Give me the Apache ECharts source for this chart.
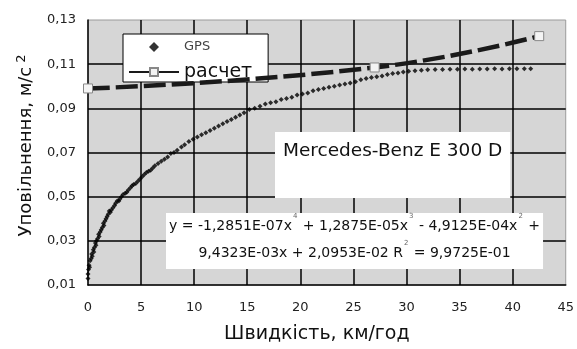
<!DOCTYPE html>
<html>
<head>
<meta charset="utf-8">
<script src="https://cdn.jsdelivr.net/npm/echarts@6/dist/echarts.min.js"></script>
<style>
  html, body { margin: 0; padding: 0; background: #fff; }
  #chart { width: 577px; height: 349px; }
</style>
</head>
<body>
<div id="chart"></div>
<script>
// GPS measurements: speed (km/h) and deceleration (m/s2)
const gpsSpeed = [
  0.0, 0.0, 0.05, 0.1, 0.15, 0.2, 0.3, 0.35, 0.4, 0.5, 0.55, 0.6, 0.7, 0.75, 0.8, 0.9,
  1.0, 1.05, 1.15, 1.25, 1.35, 1.45, 1.5, 1.6, 1.7, 1.8, 1.9, 2.0, 2.1, 2.2, 2.35, 2.5,
  2.6, 2.75, 2.9, 3.0, 3.15, 3.3, 3.5, 3.65, 3.8, 4.0, 4.15, 4.3, 4.5, 4.7, 4.9, 5.1,
  5.3, 5.5, 5.7, 5.9, 6.1, 6.3, 6.6, 6.9, 7.2, 7.5, 7.8, 8.1, 8.4, 8.8, 9.1, 9.5,
  9.9, 10.3, 10.7, 11.1, 11.5, 11.9, 12.3, 12.7, 13.1, 13.5, 13.9, 14.3, 14.7, 15.2, 15.7, 16.2,
  16.7, 17.2, 17.7, 18.2, 18.7, 19.2, 19.7, 20.2, 20.7, 21.2, 21.7, 22.2, 22.7, 23.2, 23.7, 24.2,
  24.7, 25.2, 25.7, 26.2, 26.7, 27.2, 27.7, 28.2, 28.7, 29.2, 29.7, 30.2, 30.8, 31.4, 32.0, 32.7,
  33.4, 34.1, 34.8, 35.5, 36.2, 36.9, 37.6, 38.3, 39.0, 39.7, 40.4, 41.1, 41.7
];
const gpsDecel = [
  0.013, 0.015, 0.017, 0.019, 0.018, 0.021, 0.022, 0.024, 0.023, 0.026, 0.025, 0.027, 0.029, 0.028, 0.030, 0.031,
  0.033, 0.032, 0.034, 0.035, 0.036, 0.038, 0.037, 0.039, 0.040, 0.041, 0.042, 0.0435, 0.043, 0.044, 0.045, 0.046,
  0.047, 0.048, 0.048, 0.049, 0.050, 0.051, 0.0515, 0.052, 0.053, 0.054, 0.055, 0.0555, 0.056, 0.057, 0.058, 0.059,
  0.060, 0.061, 0.0615, 0.062, 0.063, 0.064, 0.065, 0.066, 0.067, 0.068, 0.0695, 0.070, 0.071, 0.0725, 0.0735, 0.075,
  0.076, 0.077, 0.078, 0.079, 0.080, 0.081, 0.082, 0.083, 0.084, 0.085, 0.086, 0.087, 0.088, 0.0895, 0.090, 0.091,
  0.092, 0.0925, 0.093, 0.094, 0.0945, 0.095, 0.096, 0.0965, 0.097, 0.098, 0.0985, 0.099, 0.0995, 0.100, 0.1006, 0.101,
  0.1015, 0.102, 0.103, 0.1035, 0.104, 0.1043, 0.1046, 0.1053, 0.1058, 0.106, 0.1065, 0.1068, 0.107, 0.1073, 0.1075, 0.1076,
  0.1076, 0.1077, 0.1077, 0.1078, 0.1077, 0.1078, 0.1078, 0.1079, 0.1078, 0.1079, 0.1079, 0.1079, 0.1079
];

// calculated curve (3 points, smoothed)
const calcSpeed = [0, 27.0, 42.5];
const calcDecel = [0.099, 0.1085, 0.1227];

const seriesNames = ['GPS', 'расчет'];
const carLabel = 'Mercedes-Benz E 300 D';
const xTitle = 'Швидкість, км/год';
const yTitle = 'Уповільнення, м/с';

const chart = echarts.init(document.getElementById('chart'), null, { renderer: 'canvas' });

chart.setOption({
  animation: false,
  backgroundColor: '#fff',
  textStyle: { fontFamily: 'DejaVu Sans, Liberation Sans, sans-serif' },
  grid: {
    left: 88, right: 8, top: 20, bottom: 61,
    show: true,
    backgroundColor: '#d6d6d6',
    borderColor: '#9a9a9a',
    borderWidth: 1
  },
  legend: {
    orient: 'vertical',
    left: 123,
    top: 34,
    padding: [6, 16, 0, 5],
    itemGap: 8,
    itemWidth: 50,
    itemHeight: 10,
    symbolKeepAspect: true,
    backgroundColor: '#fff',
    borderColor: '#000',
    borderWidth: 1,
    borderRadius: 0,
    data: [
      { name: seriesNames[0], icon: 'path://M5,0L10,5L5,10L0,5Z',
        textStyle: { fontSize: 13, color: '#444', lineHeight: 14 } },
      { name: seriesNames[1],
        textStyle: { fontSize: 19, color: '#111', lineHeight: 20 } }
    ]
  },
  xAxis: {
    type: 'value',
    min: 0, max: 45, interval: 5,
    name: xTitle,
    nameLocation: 'middle',
    nameGap: 40,
    nameTextStyle: { fontSize: 19, color: '#111', padding: [0, 20, 0, 0] },
    axisLine: { show: true, lineStyle: { color: '#000', width: 1.5 } },
    axisTick: { show: false },
    axisLabel: { margin: 16, fontSize: 13, color: '#222' },
    splitLine: { show: true, showMinLine: false, showMaxLine: false, lineStyle: { color: '#000', width: 1.5 } }
  },
  yAxis: {
    type: 'value',
    min: 0.01, max: 0.13, interval: 0.02,
    name: '{a|' + yTitle + '}{s|2}',
    nameLocation: 'middle',
    nameGap: 51,
    nameTextStyle: {
      padding: [0, 0, 0, 14],
      rich: {
        a: { fontSize: 18, color: '#111', lineHeight: 22 },
        s: { fontSize: 13, color: '#111', verticalAlign: 'top', lineHeight: 22, padding: [0, 0, 6, 4] }
      }
    },
    axisLine: { show: true, lineStyle: { color: '#000', width: 1.5 } },
    axisTick: { show: false },
    axisLabel: {
      margin: 12, fontSize: 13, color: '#222',
      formatter: (v) => v.toFixed(2).replace('.', ',')
    },
    splitLine: { show: true, showMinLine: false, showMaxLine: false, lineStyle: { color: '#000', width: 1.5 } }
  },
  series: [
    {
      name: seriesNames[0],
      type: 'scatter',
      symbol: 'diamond',
      symbolSize: 5,
      itemStyle: { color: '#000' },
      z: 3,
      data: gpsSpeed.map((x, i) => [x, gpsDecel[i]])
    },
    {
      name: seriesNames[1],
      type: 'line',
      smooth: 0.5,
      symbol: 'rect',
      symbolSize: 9,
      showAllSymbol: true,
      lineStyle: { color: '#1a1a1a', width: 4.5, type: [22, 6] },
      itemStyle: { color: '#f4f4f4', borderColor: '#888', borderWidth: 1 },
      z: 4,
      data: calcSpeed.map((x, i) => [x, calcDecel[i]])
    }
  ],
  graphic: [
    {
      type: 'text',
      z: 10,
      left: 275,
      top: 132,
      style: {
        text: carLabel,
        fontFamily: 'DejaVu Sans',
        fontSize: 18.5,
        fill: '#111',
        backgroundColor: '#fff',
        padding: [10, 8, 37, 8]
      }
    },
    {
      type: 'text',
      z: 10,
      left: 166,
      top: 213,
      style: {
        text: '{t|y = -1,2851E-07x}{s|4}{t| + 1,2875E-05x}{s|3}{t| - 4,9125E-04x}{s|2}{t| +}\n' +
              '{t|9,4323E-03x + 2,0953E-02 R}{s|2}{t| = 9,9725E-01}',
        backgroundColor: '#fff',
        padding: [0, 3, 2, 3],
        rich: {
          t: { fontFamily: 'DejaVu Sans', fontSize: 14, fill: '#111', lineHeight: 27, align: 'center' },
          s: { fontFamily: 'DejaVu Sans', fontSize: 7, fill: '#666', lineHeight: 27, verticalAlign: 'top', align: 'center', padding: [0, 1, 0, 1] }
        }
      }
    }
  ]
});
</script>
</body>
</html>
